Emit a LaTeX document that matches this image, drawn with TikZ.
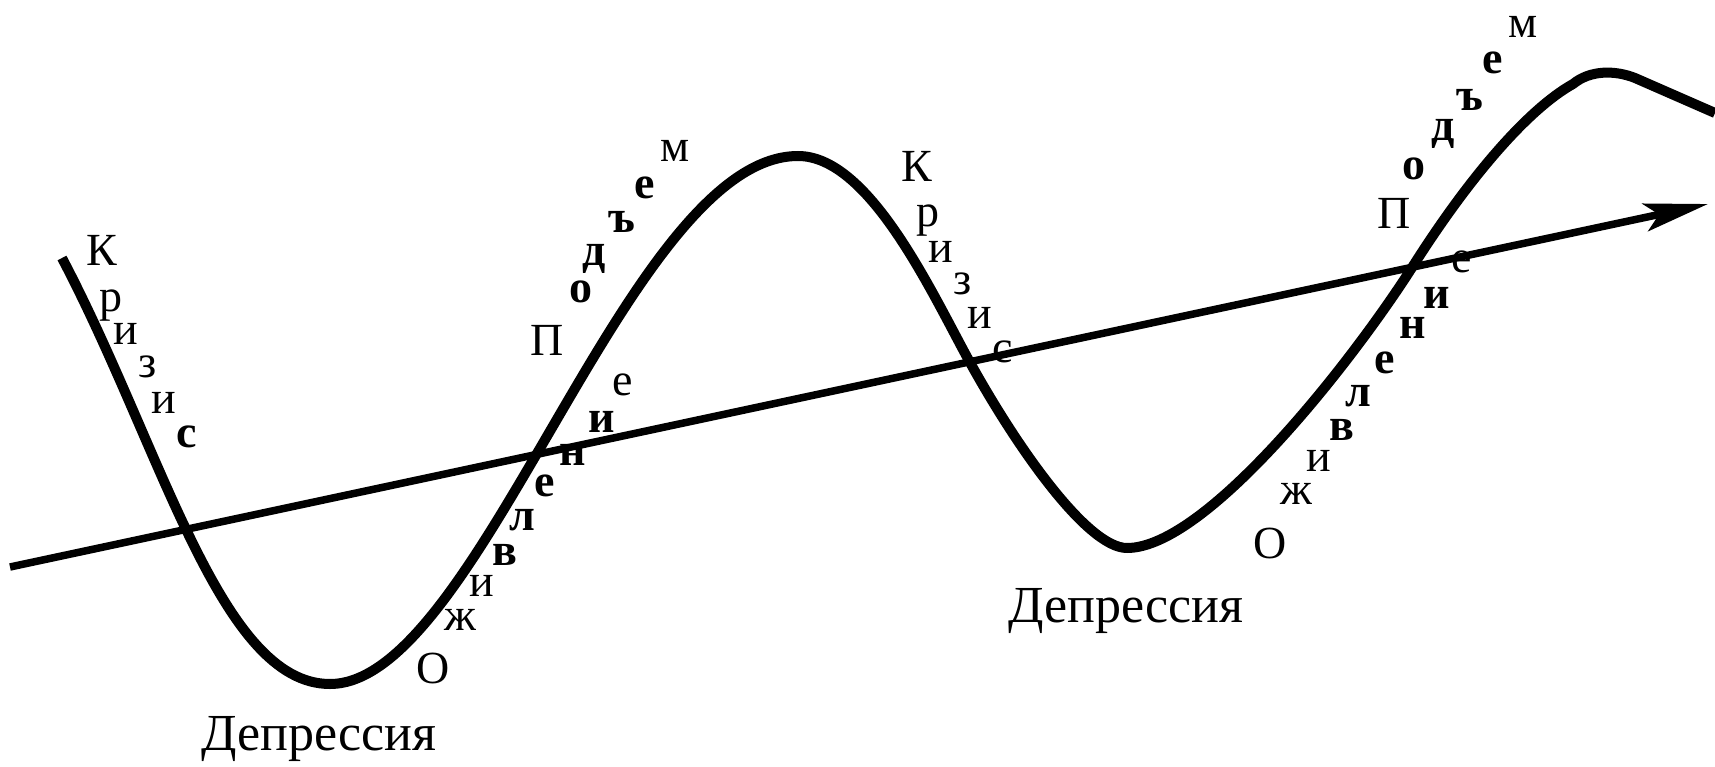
\documentclass[tikz,border=0pt]{standalone}
\usepackage{fontspec}
\setmainfont{Liberation Serif}
\usetikzlibrary{arrows.meta}
\begin{document}
\begin{tikzpicture}[x=1pt,y=-1pt,
  lt/.style={inner sep=0pt, font=\fontsize{46}{46}\selectfont},
  lb/.style={inner sep=0pt, font=\fontsize{46}{46}\selectfont\bfseries},
  dep/.style={inner sep=0pt, anchor=base, font=\fontsize{52}{52}\selectfont},
  curve/.style={line width=10pt, line join=round},
  axis/.style={line width=7.5pt, -{Stealth[length=64pt,width=28pt,inset=14pt]}}]
\useasboundingbox (0,0) rectangle (1715,767);
% left "Кризис"
\node[lt] (ka1) at (102,250) {К};
\node[lt] (ka2) at (111,306) {р};
\node[lt] (ka3) at (126,334) {и};
\node[lt] (ka4) at (148,367) {з};
\node[lt] (ka5) at (164,403) {и};
\node[lb] (ka6) at (187,437) {с};
% middle "Кризис"
\node[lt] (kb1) at (917,166) {К};
\node[lt] (kb2) at (928,221) {р};
\node[lt] (kb3) at (941,252) {и};
\node[lt] (kb4) at (963,284) {з};
\node[lt] (kb5) at (980,318) {и};
\node[lt] (kb6) at (1003,352) {с};
% first "Подъем"
\node[lt] (pa1) at (547,340) {П};
\node[lb] (pa2) at (581,292) {о};
\node[lb] (pa3) at (594,259) {д};
\node[lb] (pa4) at (622,222) {ъ};
\node[lb] (pa5) at (645,188) {е};
\node[lt] (pa6) at (675,151) {м};
% second "Подъем"
\node[lt] (pb1) at (1394,213) {П};
\node[lb] (pb2) at (1414,169) {о};
\node[lb] (pb3) at (1443,134) {д};
\node[lb] (pb4) at (1470,100) {ъ};
\node[lb] (pb5) at (1493,63) {е};
\node[lt] (pb6) at (1523,27) {м};
% first "Оживление"
\node[lt] (oa1) at (433,668) {О};
\node[lt] (oa2) at (460,620) {ж};
\node[lt] (oa3) at (482,586) {и};
\node[lb] (oa4) at (505,555) {в};
\node[lb] (oa5) at (522,520) {л};
\node[lb] (oa6) at (545,486) {е};
\node[lb] (oa7) at (573,455) {н};
\node[lb] (oa8) at (602,422) {и};
\node[lt] (oa9) at (623,385) {е};
% second "Оживление"
\node[lt] (ob1) at (1270,543) {О};
\node[lt] (ob2) at (1296,494) {ж};
\node[lt] (ob3) at (1319,461) {и};
\node[lb] (ob4) at (1342,430) {в};
\node[lb] (ob5) at (1358,396) {л};
\node[lb] (ob6) at (1385,363) {е};
\node[lb] (ob7) at (1413,328) {н};
\node[lb] (ob8) at (1437,298) {и};
\node[lt] (ob9) at (1462,262) {е};
% "Депрессия"
\node[dep] (da) at (319,750) {Депрессия};
\node[dep] (db) at (1126,622) {Депрессия};
% wave
\coordinate (s0) at (62,258);
\coordinate (m1) at (330,684);
\coordinate (M1) at (798,156);
\coordinate (I2) at (967,357);
\coordinate (m2) at (1127,548);
\coordinate (I3) at (1413,266);
\coordinate (K3) at (1573,84);
\coordinate (T3) at (1635,78);
\coordinate (E3) at (1715,113);
\draw[curve] (s0) .. controls (162,448) and (220,684) .. (m1)
  .. controls (480,684) and (628,156) .. (M1)
  .. controls (868,156) and (929,287) .. (I2)
  .. controls (1015,445) and (1087,548) .. (m2)
  .. controls (1207,548) and (1354,359) .. (I3)
  .. controls (1472,173) and (1530,108) .. (K3)
  .. controls (1590,70) and (1615,70) .. (T3)
  -- (E3);
% trend arrow
\coordinate (a0) at (10,567);
\coordinate (a1) at (1708,204);
\draw[axis] (a0) -- (a1);
\end{tikzpicture}
\end{document}
